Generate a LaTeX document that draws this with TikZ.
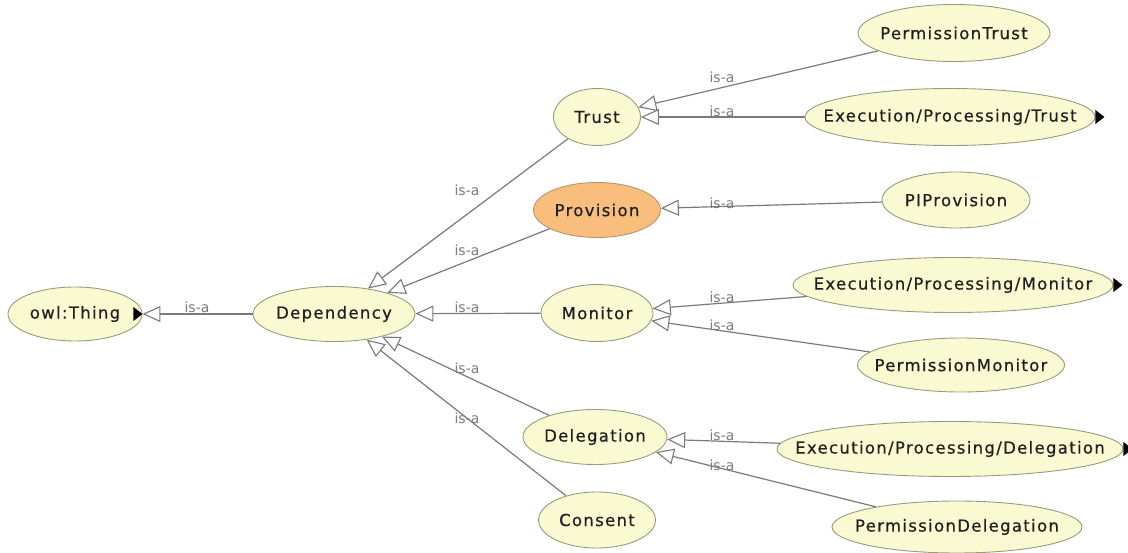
\documentclass[tikz,border=0pt]{standalone}
\usepackage{fontspec}
\setmainfont{DejaVu Sans}
\newfontfamily\clsfont[LetterSpace=8,FakeBold=0.45]{DejaVu Sans}
\usetikzlibrary{shapes.geometric,arrows.meta}

\definecolor{clsfill}{HTML}{FAFAD2}
\definecolor{clsdraw}{HTML}{9A9A7A}
\definecolor{selfill}{HTML}{F9BE7E}
\definecolor{seldraw}{HTML}{B8946A}
\definecolor{edgegray}{HTML}{7A7A7A}
\definecolor{lblgray}{HTML}{7C7C7C}

% class name set in a zero-width box so the ellipse size comes from the style only
\newcommand{\clsname}[1]{\makebox[0pt]{#1}}

\begin{document}
\begin{tikzpicture}[x=1pt,y=-1pt,
  cls/.style={ellipse, draw=clsdraw, fill=clsfill, line width=0.9pt, inner sep=0pt,
    minimum width=#1, minimum height=55pt,
    font=\clsfont\fontsize{16.5}{18}\selectfont, text=black!88},
  selcls/.style={cls=#1, fill=selfill, draw=seldraw},
  isa/.style={draw=edgegray, line width=1.2pt,
    -{Triangle[open, length=18pt, width=16pt, line width=1.1pt]}},
  lbl/.style={font=\fontsize{14}{16}\selectfont, text=lblgray, inner sep=0pt},
  moremark/.style={fill=black}
]
\fill[white] (0,0) rectangle (1128,553);
\useasboundingbox (0,0) rectangle (1128,553);

% classes
\node[cls=134pt, minimum height=54pt] (thing)   at (75,314)  {\clsname{owl:Thing}};
\node[cls=162pt]                      (dep)     at (334,314) {\clsname{Dependency}};
\node[cls=87pt, minimum height=57pt]  (trust)   at (597,117) {\clsname{Trust}};
\node[selcls=127pt]                   (prov)    at (597,210) {\clsname{Provision}};
\node[cls=112pt, minimum height=57pt] (mon)     at (597,313) {\clsname{Monitor}};
\node[cls=144pt]                      (deleg)   at (595,437) {\clsname{Delegation}};
\node[cls=117pt, minimum height=56pt] (consent) at (597,520) {\clsname{Consent}};

\node[cls=192pt, minimum height=57pt] (ptrust)  at (954,33)  {\clsname{PermissionTrust}};
\node[cls=290pt, minimum height=57pt] (eptrust) at (950,117) {\clsname{Execution/Processing/Trust}};
\node[cls=148pt, minimum height=56pt] (piprov)  at (956,200) {\clsname{PIProvision}};
\node[cls=320pt]                      (epmon)   at (953,285) {\clsname{Execution/Processing/Monitor}};
\node[cls=207pt, minimum height=54pt] (pmon)    at (961,365) {\clsname{PermissionMonitor}};
\node[cls=346pt]                      (epdeleg) at (950,449) {\clsname{Execution/Processing/Delegation}};
\node[cls=250pt, minimum height=52pt] (pdeleg)  at (957,527) {\clsname{PermissionDelegation}};

% markers for classes with hidden subclasses
\fill[moremark] ([shift={(-9,-7)}]thing.east) -- ([shift={(-9,7)}]thing.east)
  -- ([shift={(0,0)}]thing.east) -- cycle;
\fill[moremark] ([shift={(0,-7)}]eptrust.east) -- ([shift={(0,7)}]eptrust.east)
  -- ([shift={(9,0)}]eptrust.east) -- cycle;
\fill[moremark] ([shift={(0,-7)}]epmon.east) -- ([shift={(0,7)}]epmon.east)
  -- ([shift={(9,0)}]epmon.east) -- cycle;
\fill[moremark] ([shift={(0,-7)}]epdeleg.east) -- ([shift={(0,7)}]epdeleg.east)
  -- ([shift={(9,0)}]epdeleg.east) -- cycle;

% subclass edges
\draw[isa] (dep) -- (thing);
\draw[isa] (trust) -- (dep);
\draw[isa] (prov) -- (dep);
\draw[isa] (mon) -- (dep);
\draw[isa] (deleg) -- (dep);
\draw[isa] (consent) -- (dep);
\draw[isa] (ptrust) -- (trust);
\draw[isa] (eptrust) -- (trust);
\draw[isa] (piprov) -- (prov);
\draw[isa] (epmon) -- (mon);
\draw[isa] (pmon) -- (mon);
\draw[isa] (epdeleg) -- (deleg);
\draw[isa] (pdeleg) -- (deleg);

% edge labels
\node[lbl] (l-thing)   at (197,307) {is-a};
\node[lbl] (l-trust)   at (467,190) {is-a};
\node[lbl] (l-prov)    at (467,250) {is-a};
\node[lbl] (l-mon)     at (467,307) {is-a};
\node[lbl] (l-deleg)   at (467,368) {is-a};
\node[lbl] (l-consent) at (467,418) {is-a};
\node[lbl] (l-ptrust)  at (722,77)  {is-a};
\node[lbl] (l-eptrust) at (722,111) {is-a};
\node[lbl] (l-piprov)  at (722,203) {is-a};
\node[lbl] (l-epmon)   at (722,297) {is-a};
\node[lbl] (l-pmon)    at (722,325) {is-a};
\node[lbl] (l-epdeleg) at (722,435) {is-a};
\node[lbl] (l-pdeleg)  at (722,465) {is-a};
\end{tikzpicture}
\end{document}
